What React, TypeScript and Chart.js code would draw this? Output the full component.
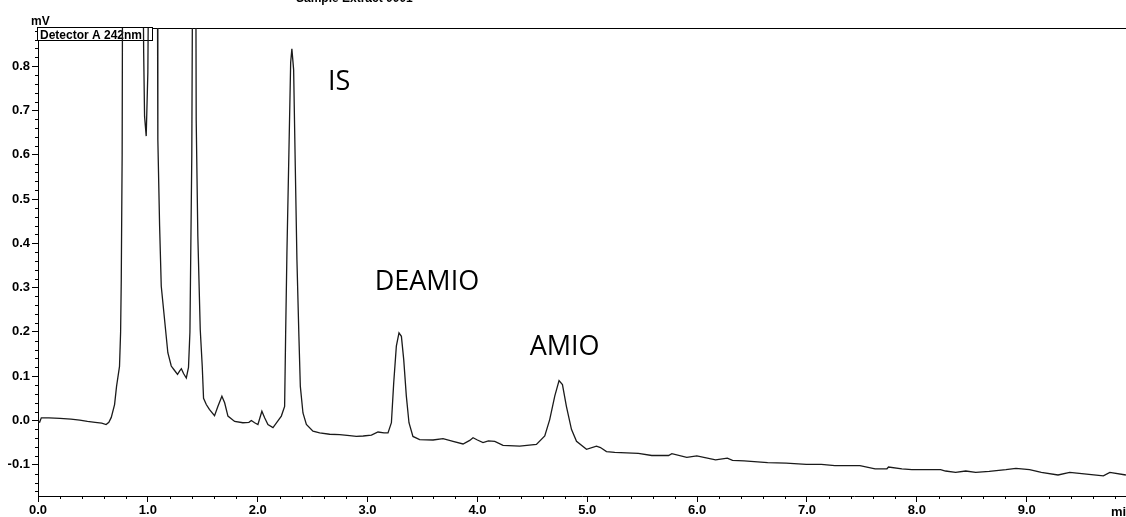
import React, { useEffect, useRef } from 'react';
import { Chart, registerables } from 'chart.js';

Chart.register(...registerables);

// Retention time (min)
const timeMin = [
  0.0, 0.015, 0.03, 0.1, 0.2, 0.3, 0.38, 0.45, 0.52, 0.58, 0.62, 0.645, 0.667, 0.697, 0.715, 0.742, 0.752, 0.758, 0.766, 0.775, 0.8, 0.93,
  0.95, 0.962, 0.97, 0.985, 1.0, 1.012, 1.05, 1.085, 1.091, 1.107, 1.122, 1.152, 1.182, 1.213, 1.24, 1.27, 1.29, 1.305, 1.325, 1.35,
  1.37, 1.383, 1.4, 1.41, 1.43, 1.435, 1.44, 1.455, 1.477, 1.495, 1.507, 1.532, 1.56, 1.607, 1.638, 1.674, 1.699, 1.729, 1.79, 1.865,
  1.92, 1.942, 1.972, 2.002, 2.038, 2.063, 2.093, 2.139, 2.169, 2.215, 2.245, 2.254, 2.266, 2.284, 2.3, 2.311, 2.327, 2.342, 2.357,
  2.375, 2.388, 2.412, 2.443, 2.503, 2.564, 2.655, 2.746, 2.837, 2.898, 2.96, 3.035, 3.095, 3.15, 3.186, 3.217, 3.238, 3.262, 3.286,
  3.308, 3.329, 3.353, 3.377, 3.413, 3.474, 3.596, 3.687, 3.778, 3.869, 3.93, 3.96, 4.0, 4.051, 4.1, 4.158, 4.233, 4.385, 4.537, 4.613,
  4.658, 4.704, 4.743, 4.774, 4.81, 4.856, 4.902, 4.993, 5.084, 5.12, 5.175, 5.25, 5.465, 5.587, 5.74, 5.77, 5.906, 5.997, 6.168,
  6.275, 6.322, 6.428, 6.642, 6.81, 6.994, 7.131, 7.254, 7.482, 7.62, 7.728, 7.742, 7.864, 7.955, 8.216, 8.261, 8.353, 8.445, 8.536,
  8.659, 8.811, 8.902, 9.026, 9.085, 9.133, 9.285, 9.392, 9.545, 9.698, 9.757, 9.903,
];

// Detector signal (mV)
const signalMv = [
  -0.003, -0.004, 0.006, 0.006, 0.005, 0.003, 0.001, -0.002, -0.004, -0.006, -0.009, -0.004, 0.007, 0.036, 0.077, 0.122, 0.2, 0.318, 0.6, 1.6, 2.5, 1.6,
  1.2, 0.83, 0.687, 0.642, 0.786, 1.2, 2.0, 1.2, 0.634, 0.439, 0.303, 0.228, 0.153, 0.123, 0.114, 0.104, 0.112, 0.117, 0.106, 0.096,
  0.12, 0.2, 0.6, 1.2, 2.0, 1.2, 0.68, 0.416, 0.205, 0.123, 0.05, 0.036, 0.025, 0.011, 0.032, 0.055, 0.04, 0.01, -0.002, -0.005,
  -0.004, 0.0, -0.005, -0.009, 0.021, 0.006, -0.009, -0.016, -0.006, 0.01, 0.032, 0.19, 0.379, 0.605, 0.808, 0.839, 0.792, 0.574, 0.363,
  0.19, 0.077, 0.017, -0.009, -0.024, -0.028, -0.031, -0.032, -0.034, -0.036, -0.035, -0.033, -0.026, -0.028, -0.028, -0.005, 0.085, 0.168, 0.198,
  0.19, 0.138, 0.055, -0.005, -0.036, -0.043, -0.044, -0.041, -0.047, -0.053, -0.045, -0.039, -0.044, -0.05, -0.046, -0.047, -0.056, -0.058, -0.054, -0.035,
  0.002, 0.055, 0.09, 0.081, 0.032, -0.02, -0.047, -0.065, -0.058, -0.061, -0.07, -0.072, -0.074, -0.079, -0.079, -0.075, -0.083, -0.08, -0.089,
  -0.085, -0.09, -0.091, -0.095, -0.096, -0.099, -0.099, -0.102, -0.102, -0.109, -0.109, -0.105, -0.109, -0.111, -0.111, -0.114, -0.117, -0.114, -0.117,
  -0.115, -0.111, -0.108, -0.111, -0.114, -0.117, -0.123, -0.117, -0.121, -0.125, -0.117, -0.123,
];

const xTickValues = [0, 1, 2, 3, 4, 5, 6, 7, 8, 9];
const yTickValues = [-0.1, 0, 0.1, 0.2, 0.3, 0.4, 0.5, 0.6, 0.7, 0.8];

const peakLabels = ['IS', 'DEAMIO', 'AMIO'];
const peakLabelTime = [2.64, 3.065, 4.476];
const peakLabelLevel = [0.746, 0.295, 0.148];

const titleText = 'Sample Extract 0001';
const detectorText = 'Detector A 242nm';
const yUnit = 'mV';
const xUnit = 'min';

const TICK_FONT = '"Liberation Sans", Arial, sans-serif';

const decorPlugin = {
  id: 'decor',
  beforeDatasetsDraw(chart: any) {
    const ctx = chart.ctx;
    const { left, right, top } = chart.chartArea;
    ctx.save();
    ctx.strokeStyle = '#000';
    ctx.lineWidth = 1;
    ctx.beginPath();
    ctx.moveTo(left, top + 0.5);
    ctx.lineTo(right, top + 0.5);
    ctx.stroke();
    // detector box
    ctx.fillStyle = '#fff';
    ctx.fillRect(left - 0.5, top - 0.5, 115, 13);
    ctx.strokeRect(left - 0.5, top - 0.5, 115, 13);
    ctx.fillStyle = '#000';
    ctx.font = `bold 12px ${TICK_FONT}`;
    ctx.textBaseline = 'alphabetic';
    ctx.textAlign = 'left';
    ctx.fillText(detectorText, left + 2, top + 10.5, 110);
    ctx.restore();
  },
  afterDraw(chart: any) {
    const ctx = chart.ctx;
    const xs = chart.scales.x;
    const ys = chart.scales.y;
    const { left, right, top, bottom } = chart.chartArea;
    ctx.save();
    ctx.strokeStyle = '#000';
    ctx.lineWidth = 1;
    ctx.beginPath();
    for (let k = -8; k <= 44; k++) {
      if (k % 5 === 0) continue;
      const py = Math.round(ys.getPixelForValue(k * 0.02)) + 0.5;
      if (py < top || py > bottom) continue;
      ctx.moveTo(left - 3, py);
      ctx.lineTo(left, py);
    }
    for (let k = 1; k <= 49; k++) {
      if (k % 5 === 0) continue;
      const px = Math.round(xs.getPixelForValue(k * 0.2)) + 0.5;
      if (px > right) continue;
      ctx.moveTo(px, bottom);
      ctx.lineTo(px, bottom + 3);
    }
    ctx.stroke();

    ctx.fillStyle = '#000';
    ctx.font = `bold 12px ${TICK_FONT}`;
    ctx.textAlign = 'left';
    ctx.textBaseline = 'alphabetic';
    ctx.fillText(yUnit, left - 7, top - 3);
    ctx.fillText(titleText, 296, 2);
    ctx.font = `bold 13px ${TICK_FONT}`;
    ctx.fillText(xUnit, 1111, bottom + 20);

    ctx.font = '27px "Open Sans", "Noto Sans", sans-serif';
    for (let i = 0; i < peakLabels.length; i++) {
      ctx.fillText(peakLabels[i], xs.getPixelForValue(peakLabelTime[i]), ys.getPixelForValue(peakLabelLevel[i]));
    }
    ctx.restore();
  },
};

export default function App() {
  const ref = useRef<HTMLCanvasElement | null>(null);

  useEffect(() => {
    if (!ref.current) return;
    const points = timeMin.map((t, i) => ({ x: t, y: signalMv[i] }));
    const chart = new Chart(ref.current, {
      type: 'line',
      data: {
        datasets: [
          {
            data: points,
            borderColor: '#1a1a1a',
            borderWidth: 1.3,
            pointRadius: 0,
            tension: 0,
            fill: false,
          },
        ],
      },
      options: {
        animation: false,
        responsive: false,
        devicePixelRatio: 1,
        layout: { padding: { top: 28, left: 0, right: 0, bottom: 0 } },
        plugins: { legend: { display: false }, tooltip: { enabled: false }, title: { display: false } },
        scales: {
          x: {
            type: 'linear',
            min: 0,
            max: 9.904,
            afterBuildTicks: (s: any) => {
              s.ticks = xTickValues.map((v) => ({ value: v }));
            },
            afterFit: (s: any) => {
              s.height = 21;
            },
            ticks: {
              autoSkip: false,
              maxRotation: 0,
              padding: 1,
              color: '#000',
              font: { family: TICK_FONT, size: 13, weight: 'bold' },
              callback: (v: any) => Number(v).toFixed(1),
            },
            grid: { display: true, drawOnChartArea: false, drawTicks: true, tickLength: 6, color: '#000', lineWidth: 1 },
            border: { display: true, color: '#000', width: 1 },
          },
          y: {
            type: 'linear',
            min: -0.1704,
            max: 0.886,
            afterBuildTicks: (s: any) => {
              s.ticks = yTickValues.map((v) => ({ value: v }));
            },
            afterFit: (s: any) => {
              s.width = 38;
            },
            ticks: {
              autoSkip: false,
              padding: 2,
              color: '#000',
              font: { family: TICK_FONT, size: 13, weight: 'bold' },
              callback: (v: any) => Number(v).toFixed(1),
            },
            grid: { display: true, drawOnChartArea: false, drawTicks: true, tickLength: 6, color: '#000', lineWidth: 1 },
            border: { display: true, color: '#000', width: 1 },
          },
        },
      },
      plugins: [decorPlugin],
    });
    return () => chart.destroy();
  }, []);

  return (
    <div style={{ position: 'fixed', left: 0, top: 0, width: 1126, height: 517, background: '#fff' }}>
      <canvas ref={ref} width={1126} height={517} style={{ display: 'block' }} />
    </div>
  );
}
